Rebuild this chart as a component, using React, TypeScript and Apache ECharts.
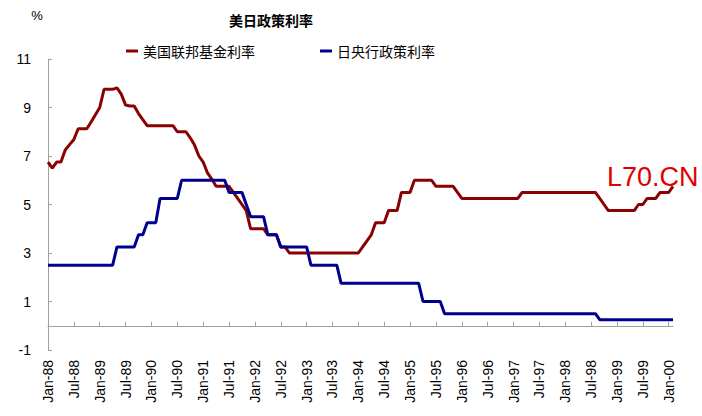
import React, { useEffect, useRef } from 'react';
import * as echarts from 'echarts';

const MONTHS = ['Jan', 'Feb', 'Mar', 'Apr', 'May', 'Jun', 'Jul', 'Aug', 'Sep', 'Oct', 'Nov', 'Dec'];
const YEARS = ['88', '89', '90', '91', '92', '93', '94', '95', '96', '97', '98', '99', '00'];

const SERIES_NAMES = ['美国联邦基金利率', '日央行政策利率'];

// 美国联邦基金利率 (monthly, Jan-88 .. Feb-00)
const fedRate = [
  6.75, 6.5, 6.75, 6.75, 7.25, 7.47, 7.68, 8.125, 8.125, 8.125, 8.4, 8.7,
  9.0, 9.75, 9.75, 9.75, 9.81, 9.55, 9.1, 9.06, 9.06, 8.75, 8.5, 8.25,
  8.25, 8.25, 8.25, 8.25, 8.25, 8.25, 8.0, 8.0, 8.0, 7.75, 7.45, 7.0,
  6.75, 6.3, 6.05, 5.75, 5.75, 5.75, 5.75, 5.5, 5.25, 5.0, 4.75, 4.0,
  4.0, 4.0, 4.0, 3.75, 3.75, 3.75, 3.25, 3.25, 3.0, 3.0, 3.0, 3.0,
  3.0, 3.0, 3.0, 3.0, 3.0, 3.0, 3.0, 3.0, 3.0, 3.0, 3.0, 3.0,
  3.0, 3.25, 3.5, 3.75, 4.25, 4.25, 4.25, 4.75, 4.75, 4.75, 5.5, 5.5,
  5.5, 6.0, 6.0, 6.0, 6.0, 6.0, 5.75, 5.75, 5.75, 5.75, 5.75, 5.5,
  5.25, 5.25, 5.25, 5.25, 5.25, 5.25, 5.25, 5.25, 5.25, 5.25, 5.25, 5.25,
  5.25, 5.25, 5.5, 5.5, 5.5, 5.5, 5.5, 5.5, 5.5, 5.5, 5.5, 5.5,
  5.5, 5.5, 5.5, 5.5, 5.5, 5.5, 5.5, 5.5, 5.25, 5.0, 4.75, 4.75,
  4.75, 4.75, 4.75, 4.75, 4.75, 5.0, 5.0, 5.25, 5.25, 5.25, 5.5, 5.5,
  5.5, 5.75,
];

// 日央行政策利率 (monthly, Jan-88 .. Feb-00)
const bojRate = [
  2.5, 2.5, 2.5, 2.5, 2.5, 2.5, 2.5, 2.5, 2.5, 2.5, 2.5, 2.5,
  2.5, 2.5, 2.5, 2.5, 3.25, 3.25, 3.25, 3.25, 3.25, 3.75, 3.75, 4.25,
  4.25, 4.25, 5.25, 5.25, 5.25, 5.25, 5.25, 6.0, 6.0, 6.0, 6.0, 6.0,
  6.0, 6.0, 6.0, 6.0, 6.0, 6.0, 5.5, 5.5, 5.5, 5.5, 5.0, 4.5,
  4.5, 4.5, 4.5, 3.75, 3.75, 3.75, 3.25, 3.25, 3.25, 3.25, 3.25, 3.25,
  3.25, 2.5, 2.5, 2.5, 2.5, 2.5, 2.5, 2.5, 1.75, 1.75, 1.75, 1.75,
  1.75, 1.75, 1.75, 1.75, 1.75, 1.75, 1.75, 1.75, 1.75, 1.75, 1.75, 1.75,
  1.75, 1.75, 1.75, 1.0, 1.0, 1.0, 1.0, 1.0, 0.5, 0.5, 0.5, 0.5,
  0.5, 0.5, 0.5, 0.5, 0.5, 0.5, 0.5, 0.5, 0.5, 0.5, 0.5, 0.5,
  0.5, 0.5, 0.5, 0.5, 0.5, 0.5, 0.5, 0.5, 0.5, 0.5, 0.5, 0.5,
  0.5, 0.5, 0.5, 0.5, 0.5, 0.5, 0.5, 0.5, 0.25, 0.25, 0.25, 0.25,
  0.25, 0.25, 0.25, 0.25, 0.25, 0.25, 0.25, 0.25, 0.25, 0.25, 0.25, 0.25,
  0.25, 0.25,
];

const categories = YEARS.flatMap((y) => MONTHS.map((m) => `${m}-${y}`)).slice(0, fedRate.length);

const Y_MIN = -1;
const Y_MAX = 11;
const Y_STEP = 2;

const LATIN = '"Liberation Sans", Arial, "Noto Sans CJK SC", sans-serif';
const CJK = '"Noto Sans CJK SC", "Liberation Sans", sans-serif';

export default function App() {
  const ref = useRef<HTMLDivElement>(null);

  useEffect(() => {
    document.body.style.margin = '0';
    if (!ref.current) return;
    const chart = echarts.init(ref.current, null, { renderer: 'svg' });
    chart.setOption({
      animation: false,
      backgroundColor: '#ffffff',
      grid: {
        left: 48,
        right: 29,
        top: 59,
        bottom: 66,
        containLabel: false,
        outerBoundsMode: 'none',
      },
      legend: {
        left: 121,
        top: 39,
        icon: 'rect',
        itemWidth: 12,
        itemHeight: 3,
        itemGap: 65,
        data: SERIES_NAMES,
        textStyle: { fontSize: 14, color: '#000', fontFamily: CJK },
      },
      graphic: [
        {
          type: 'text',
          x: 271,
          y: 20,
          style: {
            text: '美日政策利率',
            font: `bold 14px ${CJK}`,
            fill: '#000',
            align: 'center',
            verticalAlign: 'middle',
          },
        },
        {
          type: 'text',
          x: 37,
          y: 15,
          style: {
            text: '%',
            font: `13px ${LATIN}`,
            fill: '#000',
            align: 'center',
            verticalAlign: 'middle',
          },
        },
        {
          type: 'text',
          x: 607,
          y: 177,
          z: 100,
          style: {
            text: 'L70.CN',
            font: `27px ${LATIN}`,
            fill: '#e00000',
            align: 'left',
            verticalAlign: 'middle',
          },
        },
      ],
      xAxis: {
        type: 'category',
        data: categories,
        boundaryGap: false,
        axisLine: { show: true, onZero: true, lineStyle: { color: '#a0a0a0', width: 1 } },
        axisTick: { show: true, inside: true, length: 4, interval: 5, lineStyle: { color: '#a0a0a0' } },
        axisLabel: {
          interval: 5,
          rotate: 90,
          margin: 10,
          fontSize: 14,
          color: '#000',
          fontFamily: LATIN,
        },
        splitLine: { show: false },
      },
      yAxis: {
        type: 'value',
        min: Y_MIN,
        max: Y_MAX,
        interval: Y_STEP,
        axisLine: { show: true, onZero: false, lineStyle: { color: '#a0a0a0', width: 1 } },
        axisTick: { show: true, inside: true, length: 4, lineStyle: { color: '#a0a0a0' } },
        axisLabel: { fontSize: 14, color: '#000', fontFamily: LATIN, margin: 17 },
        splitLine: { show: false },
      },
      series: [
        {
          name: SERIES_NAMES[0],
          type: 'line',
          data: fedRate,
          symbol: 'none',
          lineStyle: { color: '#8b0000', width: 3 },
          itemStyle: { color: '#8b0000' },
        },
        {
          name: SERIES_NAMES[1],
          type: 'line',
          data: bojRate,
          symbol: 'none',
          lineStyle: { color: '#000090', width: 3 },
          itemStyle: { color: '#000090' },
        },
      ],
    });
    return () => chart.dispose();
  }, []);

  return (
    <div
      ref={ref}
      style={{ position: 'absolute', left: 0, top: 0, width: 702, height: 416 }}
    />
  );
}
